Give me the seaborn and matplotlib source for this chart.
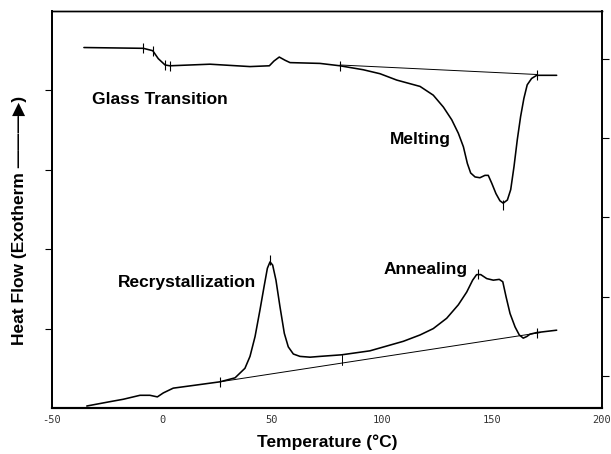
import numpy as np
import pandas as pd
import matplotlib
matplotlib.use("Agg")
import matplotlib.pyplot as plt
import seaborn as sns

# ---- data ----
upper_t = [-35.5, -8.5, -4.2, -1.7, 1.4, 3.6, 21.8, 40.0, 48.8, 50.9, 53.3, 55.9, 58.2, 71.8,
           80.9, 91.5, 99.1, 106.7, 117.3, 123.3, 127.9, 131.7, 134.7, 137.0, 138.8, 140.3, 142.3,
           144.5, 146.8, 148.3, 149.9, 151.8, 153.6, 155.1, 157.0, 158.5, 160.0, 161.5,
           163.0, 164.5, 166.0, 168.0, 170.3, 179.4]
upper_v = [4.54, 4.53, 4.50, 4.40, 4.32, 4.31, 4.33, 4.30, 4.31, 4.37, 4.42, 4.38, 4.35, 4.34,
           4.31, 4.26, 4.21, 4.13, 4.05, 3.94, 3.79, 3.63, 3.46, 3.29, 3.08, 2.96, 2.91,
           2.90, 2.93, 2.93, 2.83, 2.70, 2.61, 2.58, 2.62, 2.75, 3.04, 3.38,
           3.67, 3.90, 4.07, 4.15, 4.19, 4.19]

lower_t = [-34.2, -23.6, -17.6, -10.0, -5.5, -2.1, 0.6, 5.1, 15.8, 26.4, 33.2, 37.7, 40.0,
           42.3, 44.5, 46.4, 47.9, 49.1, 50.3, 51.8, 53.6, 55.6, 57.4, 59.7, 62.7, 67.3,
           71.8, 81.7, 94.5, 109.7, 117.3, 123.3, 129.4, 134.7, 138.5, 141.2, 143.0, 144.9,
           147.6, 150.6, 153.3, 154.9, 156.4, 158.2, 160.5, 162.4, 164.2, 165.8, 167.3,
           170.3, 179.4]
lower_v = [0.025, 0.08, 0.11, 0.16, 0.16, 0.14, 0.19, 0.25, 0.29, 0.33, 0.38, 0.50, 0.65,
           0.90, 1.23, 1.53, 1.76, 1.84, 1.80, 1.61, 1.28, 0.94, 0.77, 0.68, 0.65, 0.64,
           0.65, 0.67, 0.72, 0.84, 0.92, 1.00, 1.13, 1.30, 1.46, 1.61, 1.68, 1.68,
           1.63, 1.61, 1.62, 1.59, 1.40, 1.19, 1.02, 0.92, 0.88, 0.90, 0.93,
           0.95, 0.98]

upper_base_t = [80.9, 170.6]
upper_base_v = [4.32, 4.20]
lower_base_t = [26.4, 172.0]
lower_base_v = [0.33, 0.95]

upper_mark_t = [-8.5, -4.2, 1.4, 3.6, 80.9, 170.3, 155.1]
upper_mark_v = [4.53, 4.50, 4.32, 4.31, 4.31, 4.19, 2.56]
lower_mark_t = [26.4, 49.1, 143.8, 170.3]
lower_mark_v = [0.33, 1.86, 1.69, 0.95]
lower_link_t = [81.7, 81.7]
lower_link_v = [0.67, 0.54]

x_ticks = [-50, 0, 50, 100, 150, 200]
x_tick_labels = ["-50", "0", "50", "100", "150", "200"]
left_ticks = [1, 2, 3, 4]
right_ticks = [0.4, 1.4, 2.4, 3.4, 4.4]

labels = ["Glass Transition", "Melting", "Recrystallization", "Annealing"]
label_t = [-31.8, 103.8, -20.0, 100.5]
label_v = [3.89, 3.38, 1.58, 1.74]

# ---- plotting ----
sns.set_style("white")
plt.rcParams['font.family'] = ['Liberation Sans', 'DejaVu Sans']
plt.rcParams['text.color'] = 'black'
plt.rcParams['axes.labelcolor'] = 'black'

fig = plt.figure(figsize=(6.11, 4.54), dpi=100)
ax = fig.add_axes([52/611, 46/454, 550/611, 397/454])

df_u = pd.DataFrame({"t": upper_t, "v": upper_v})
df_l = pd.DataFrame({"t": lower_t, "v": lower_v})
lw = 1.15
sns.lineplot(data=df_u, x="t", y="v", sort=False, estimator=None, color="black", lw=lw, ax=ax)
sns.lineplot(data=df_l, x="t", y="v", sort=False, estimator=None, color="black", lw=lw, ax=ax)
sns.lineplot(x=upper_base_t, y=upper_base_v, color="black", lw=0.7, ax=ax)
sns.lineplot(x=lower_base_t, y=lower_base_v, color="black", lw=0.7, ax=ax)
ax.plot(lower_link_t, lower_link_v, color="black", lw=0.7)
ax.plot(upper_mark_t, upper_mark_v, ls="none", marker="|", ms=7, mew=0.8, color="black")
ax.plot(lower_mark_t, lower_mark_v, ls="none", marker="|", ms=7, mew=0.8, color="black")

for s, t, v in zip(labels, label_t, label_v):
    ax.text(t, v, s, fontsize=12.5, fontweight="bold", ha="left", va="center", color="black",
            family=['Liberation Sans', 'DejaVu Sans'])

ax.set_xlim(-50, 200)
ax.set_ylim(0, 5)
ax.set_xticks(x_ticks)
ax.set_xticklabels(x_tick_labels, family="DejaVu Sans Mono", fontsize=7.5, color="#333333")
ax.tick_params(axis="x", length=0, pad=5)
ax.set_yticks(left_ticks)
ax.set_yticklabels([])
ax.tick_params(axis="y", direction="out", length=5, width=0.8, color="black", left=True)

ax2 = ax.twinx()
ax2.set_ylim(0, 5)
ax2.set_yticks(right_ticks)
ax2.set_yticklabels([])
ax2.tick_params(axis="y", direction="out", length=5, width=0.8, color="black", right=True)

for a in (ax, ax2):
    for side, w in (("left", 1.3), ("bottom", 1.5), ("right", 1.2), ("top", 1.0)):
        a.spines[side].set_visible(True)
        a.spines[side].set_color("black")
        a.spines[side].set_linewidth(w)

ax.set_xlabel("Temperature (°C)", fontsize=12.5, fontweight="bold", labelpad=7, color="black")
ax.set_ylabel("Heat Flow (Exotherm \u2014\u2014\u2014\u25B6)", fontsize=12.5, fontweight="bold",
              color="black", family=['Liberation Sans', 'DejaVu Sans'])
ax.yaxis.set_label_coords(-0.046, 0.472)

fig.savefig("out.png", dpi=100)
